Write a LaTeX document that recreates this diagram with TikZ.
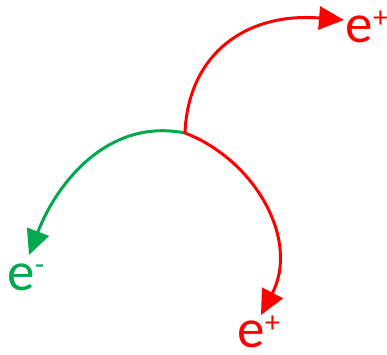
\documentclass[tikz,border=0pt]{standalone}
\usepackage{fontspec}
\setmainfont{Carlito}
\usetikzlibrary{arrows.meta}
\definecolor{posred}{RGB}{255,0,0}
\definecolor{neggreen}{RGB}{0,168,80}
\newcommand{\supsign}[2]{\raisebox{#2}{\fontsize{30}{30}\selectfont #1}}
\tikzset{
  track/.style={line width=3pt, -{Triangle[length=25pt,width=23pt]}},
  lbl/.style={anchor=base west, inner sep=0pt, text depth=0pt, font=\fontsize{55}{55}\selectfont}
}
\begin{document}
\begin{tikzpicture}[x=1pt,y=-1pt]
\useasboundingbox (0,0) rectangle (387,354);
\fill[white] (0,0) rectangle (387,354);
\coordinate (v) at (185,133);
\coordinate (g) at (29,255);
\coordinate (u) at (344,20);
\coordinate (d) at (261,315);
\draw[track, neggreen] (v) .. controls (110,118) and (58,180) .. (g);
\draw[track, posred] (v) .. controls (188,55) and (245,12) .. (u);
\draw[track, posred] (v) .. controls (255,160) and (300,240) .. (d);
\node[lbl, text=posred] (l1) at (345.5,42) {e\supsign{+}{15pt}};
\node[lbl, text=posred] (l2) at (237.5,347) {e\supsign{+}{15pt}};
\node[lbl, text=neggreen] (l3) at (7.5,290) {e\supsign{-}{16pt}};
\end{tikzpicture}
\end{document}
